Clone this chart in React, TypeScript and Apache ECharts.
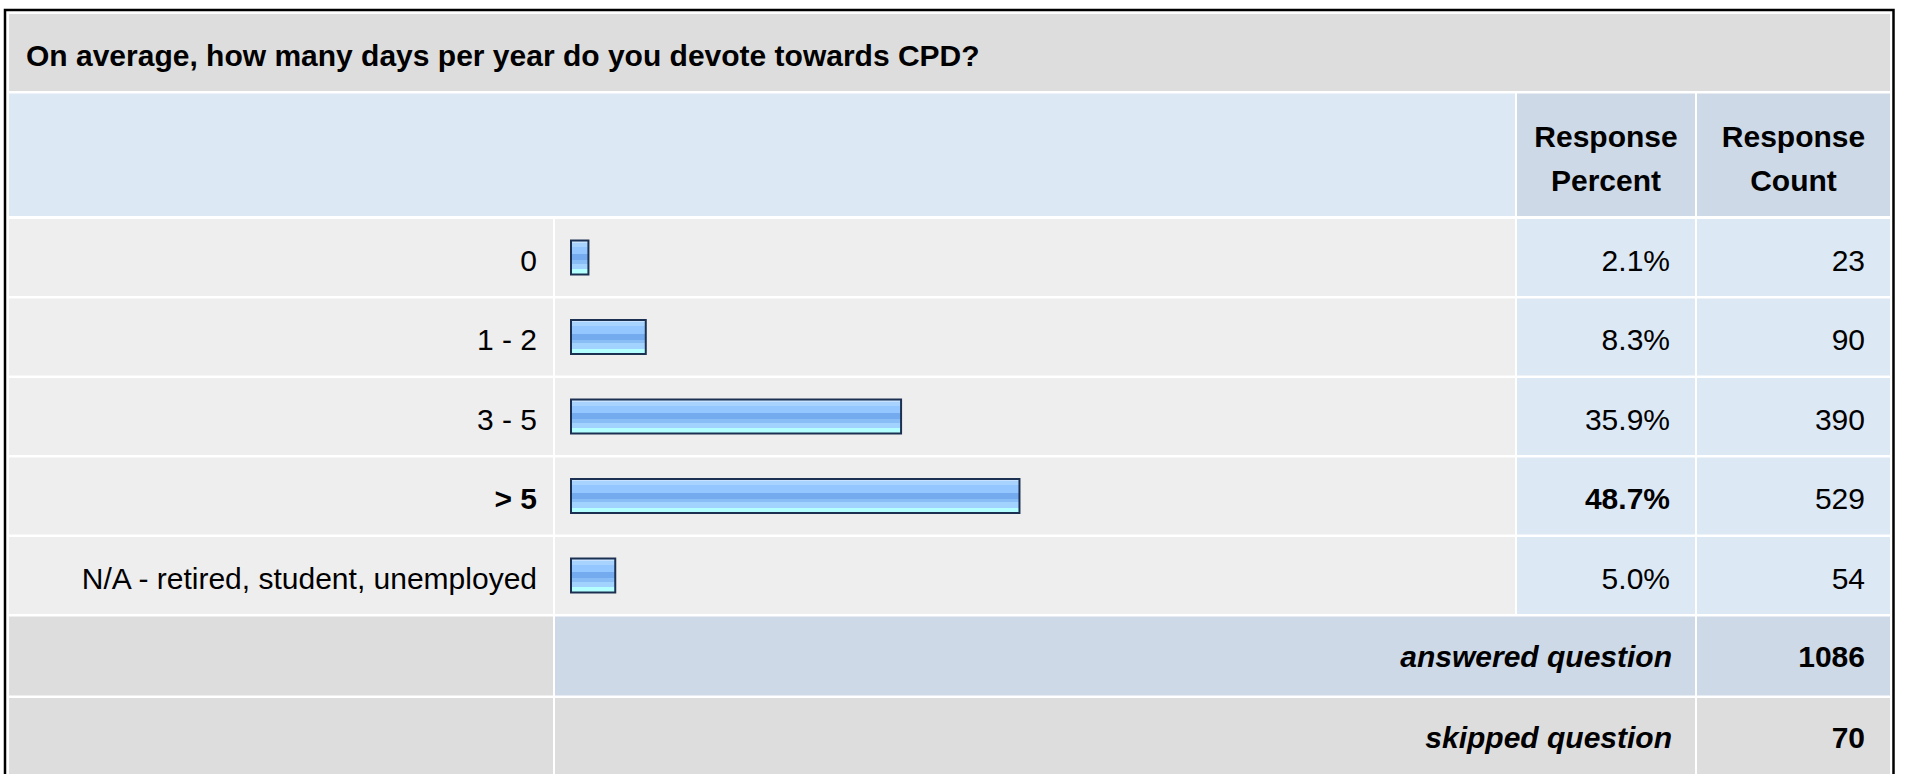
import React, { useEffect, useRef } from "react";
import * as echarts from "echarts";

// ---- data ----
const title = "On average, how many days per year do you devote towards CPD?";
const categories = ["0", "1 - 2", "3 - 5", "> 5", "N/A - retired, student, unemployed"];
const percents = [2.1, 8.3, 35.9, 48.7, 5.0];
const counts = [23, 90, 390, 529, 54];
const headerPercent = "Response\nPercent";
const headerCount = "Response\nCount";
const answeredLabel = "answered question";
const answeredCount = 1086;
const skippedLabel = "skipped question";
const skippedCount = 70;

const FONT = '"Liberation Sans", Arial, Helvetica, sans-serif';

export default function App() {
  const ref = useRef<HTMLDivElement>(null);

  useEffect(() => {
    document.body.style.margin = "0";
    if (!ref.current) return;
    const chart = echarts.init(ref.current, null, { renderer: "svg" });

    // layout
    const colL = [9, 553];
    const colB = [555, 1515];
    const colP = [1517, 1695];
    const colC = [1697, 1890];
    const rowTop0 = 219;
    const pitch = 79.5;
    const rowH = 77;
    const rowTop = (i: number) => rowTop0 + i * pitch;

    const maxIdx = percents.indexOf(Math.max(...percents));

    const rect = (x0: number, x1: number, y0: number, h: number, fill: string) => ({
      type: "rect",
      z: -5,
      silent: true,
      shape: { x: x0, y: y0, width: x1 - x0, height: h },
      style: { fill },
    });

    const bg: any[] = [];
    bg.push({
      type: "rect",
      z: -6,
      silent: true,
      shape: { x: 5, y: 10, width: 1888.5, height: 820 },
      style: { fill: "#ffffff", stroke: "#000000", lineWidth: 2.5 },
    });
    // title row
    bg.push(rect(colL[0], colC[1], 14, 77, "#dddddd"));
    // header row
    bg.push(rect(colL[0], colB[1], 93.5, 122.5, "#dde8f5"));
    bg.push(rect(colP[0], colP[1], 93.5, 122.5, "#cdd9e6"));
    bg.push(rect(colC[0], colC[1], 93.5, 122.5, "#cdd9e6"));
    categories.forEach((_, i) => {
      const y = rowTop(i);
      bg.push(rect(colL[0], colL[1], y, rowH, "#eeeeee"));
      bg.push(rect(colB[0], colB[1], y, rowH, "#eeeeee"));
      bg.push(rect(colP[0], colP[1], y, rowH, "#dde8f5"));
      bg.push(rect(colC[0], colC[1], y, rowH, "#dde8f5"));
    });
    const ay = rowTop(categories.length);
    bg.push(rect(colL[0], colL[1], ay, rowH + 2, "#dddddd"));
    bg.push(rect(colB[0], colP[1], ay, rowH + 2, "#cdd9e6"));
    bg.push(rect(colC[0], colC[1], ay, rowH + 2, "#cdd9e6"));
    const sy = rowTop(categories.length + 1) + 2;
    bg.push(rect(colL[0], colL[1], sy, 120, "#dddddd"));
    bg.push(rect(colB[0], colP[1], sy, 120, "#dddddd"));
    bg.push(rect(colC[0], colC[1], sy, 120, "#dddddd"));

    const txt = (text: string, x: number, y: number, align: string, bold: boolean, italic = false, lineHeight?: number) => ({
      type: "text",
      z: 5,
      silent: true,
      x,
      y,
      style: {
        text,
        fill: "#000000",
        fontSize: 30,
        fontWeight: bold ? "bold" : "normal",
        fontStyle: italic ? "italic" : "normal",
        fontFamily: FONT,
        align,
        verticalAlign: "middle",
        lineHeight,
      },
    });

    const texts: any[] = [];
    texts.push(txt(title, 26, 55, "left", true));
    texts.push(txt(headerPercent, (colP[0] + colP[1]) / 2, 158, "center", true, false, 44));
    texts.push(txt(headerCount, (colC[0] + colC[1]) / 2, 158, "center", true, false, 44));
    texts.push(txt(answeredLabel, 1672, ay + 40, "right", true, true));
    texts.push(txt(String(answeredCount), 1865, ay + 40, "right", true));
    texts.push(txt(skippedLabel, 1672, sy + 39, "right", true, true));
    texts.push(txt(String(skippedCount), 1865, sy + 39, "right", true));

    const gridLeft = 570;
    const gridWidth = 925;
    const gridTop = rowTop0 - (pitch - rowH) / 2;
    const gridHeight = categories.length * pitch;

    const labelStyle = {
      fontSize: 30,
      fontFamily: FONT,
      color: "#000000",
      padding: [5, 0, 0, 0],
    };
    const richStyles = {
      b: { fontSize: 30, fontFamily: FONT, color: "#000000", fontWeight: "bold" },
      n: { fontSize: 30, fontFamily: FONT, color: "#000000" },
    };
    const fmt = (v: string, i: number) => (i === maxIdx ? `{b|${v}}` : `{n|${v}}`);

    const percentLabels = percents.map((p) => p.toFixed(1) + "%");
    const countLabels = counts.map((c) => String(c));

    const gradient = new echarts.graphic.LinearGradient(0, 0, 0, 1, [
      { offset: 0, color: "#c6e2ff" },
      { offset: 0.07, color: "#c6e2ff" },
      { offset: 0.07, color: "#a9d3ff" },
      { offset: 0.18, color: "#a9d3ff" },
      { offset: 0.18, color: "#94c7ff" },
      { offset: 0.41, color: "#94c7ff" },
      { offset: 0.41, color: "#74aaee" },
      { offset: 0.58, color: "#74aaee" },
      { offset: 0.58, color: "#88bdf6" },
      { offset: 0.68, color: "#88bdf6" },
      { offset: 0.68, color: "#a2d3ff" },
      { offset: 0.85, color: "#a2d3ff" },
      { offset: 0.85, color: "#b4ffff" },
      { offset: 1, color: "#b4ffff" },
    ]);

    const hiddenAxisParts = {
      axisLine: { show: false },
      axisTick: { show: false },
      splitLine: { show: false },
    };

    chart.setOption({
      animation: false,
      backgroundColor: "#ffffff",
      grid: { left: gridLeft, width: gridWidth, top: gridTop, height: gridHeight, containLabel: false },
      xAxis: {
        type: "value",
        min: 0,
        max: 100,
        show: false,
      },
      yAxis: [
        {
          type: "category",
          data: categories,
          inverse: true,
          position: "left",
          ...hiddenAxisParts,
          axisLabel: {
            ...labelStyle,
            margin: 33,
            formatter: fmt,
            rich: richStyles,
          },
        },
        {
          type: "category",
          data: percentLabels,
          inverse: true,
          position: "right",
          ...hiddenAxisParts,
          axisLabel: {
            ...labelStyle,
            margin: 1670 - (gridLeft + gridWidth),
            align: "right",
            formatter: fmt,
            rich: richStyles,
          },
        },
        {
          type: "category",
          data: countLabels,
          inverse: true,
          position: "right",
          ...hiddenAxisParts,
          axisLabel: {
            ...labelStyle,
            margin: 1865 - (gridLeft + gridWidth),
            align: "right",
            formatter: (v: string) => `{n|${v}}`,
            rich: richStyles,
          },
        },
      ],
      series: [
        {
          type: "bar",
          yAxisIndex: 0,
          data: percents,
          barWidth: 36,
          itemStyle: {
            color: gradient,
            borderColor: "#1c3152",
            borderWidth: 2,
          },
          silent: true,
        },
      ],
      graphic: { elements: [...bg, ...texts] },
    });

    return () => chart.dispose();
  }, []);

  return (
    <div
      ref={ref}
      style={{ position: "absolute", left: 0, top: 0, width: 1905, height: 774 }}
    />
  );
}
